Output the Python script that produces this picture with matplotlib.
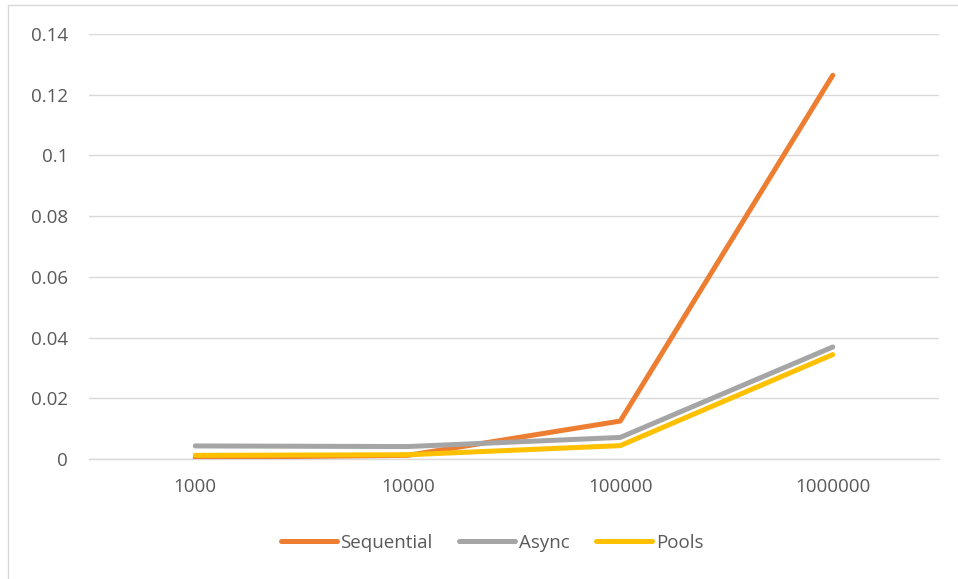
import matplotlib
matplotlib.use("Agg")
import matplotlib.pyplot as plt
from matplotlib.patches import Rectangle

categories = ["1000", "10000", "100000", "1000000"]
sequential = [0.0005, 0.0012, 0.0125, 0.1264]
async_times = [0.0043, 0.0041, 0.0071, 0.0369]
pools = [0.0012, 0.0014, 0.0044, 0.0344]
y_ticks = [0, 0.02, 0.04, 0.06, 0.08, 0.1, 0.12, 0.14]
y_tick_labels = ["0", "0.02", "0.04", "0.06", "0.08", "0.1", "0.12", "0.14"]

plt.rcParams["font.family"] = ["Open Sans", "DejaVu Sans"]
FS = 13.5

fig = plt.figure(figsize=(9.58, 5.79), dpi=100)
ax = fig.add_axes([89 / 958, 1 - 459 / 579, (939 - 89) / 958, (459 - 34) / 579])

x = list(range(len(categories)))
series = [
    ("Sequential", sequential, "#ED7D31"),
    ("Async", async_times, "#A5A5A5"),
    ("Pools", pools, "#FFC000"),
]
for name, vals, col in series:
    ax.plot(x, vals, color=col, lw=3.6, solid_capstyle="round",
            solid_joinstyle="round", label=name, zorder=3)

ax.set_xlim(-0.5, len(categories) - 0.5)
ax.set_ylim(0, 0.14)
ax.set_yticks(y_ticks)
ax.set_yticklabels(y_tick_labels)
ax.set_xticks(x)
ax.set_xticklabels(categories)
ax.grid(axis="y", color="#D9D9D9", lw=1)
ax.set_axisbelow(True)
for s in ["top", "right", "left"]:
    ax.spines[s].set_visible(False)
ax.spines["bottom"].set_color("#D9D9D9")
ax.spines["bottom"].set_linewidth(1)
ax.tick_params(axis="both", length=0, colors="#595959", labelsize=FS)
ax.tick_params(axis="y", pad=15)
ax.tick_params(axis="x", pad=14)

leg = fig.legend(loc="center", bbox_to_anchor=(492 / 958, 1 - 543 / 579),
                 ncol=3, frameon=False, fontsize=FS, handlelength=3.0,
                 handletextpad=0.2, columnspacing=1.4)
for t in leg.get_texts():
    t.set_color("#595959")
for h in leg.get_lines():
    h.set_solid_capstyle("round")

# chart-area border (right and bottom edges fall outside the canvas)
fig.patches.append(Rectangle((8 / 958, -10 / 579), 960 / 958, 584 / 579,
                             transform=fig.transFigure, fill=False,
                             edgecolor="#D9D9D9", lw=1))

fig.savefig("out.png", dpi=100, facecolor="white")
